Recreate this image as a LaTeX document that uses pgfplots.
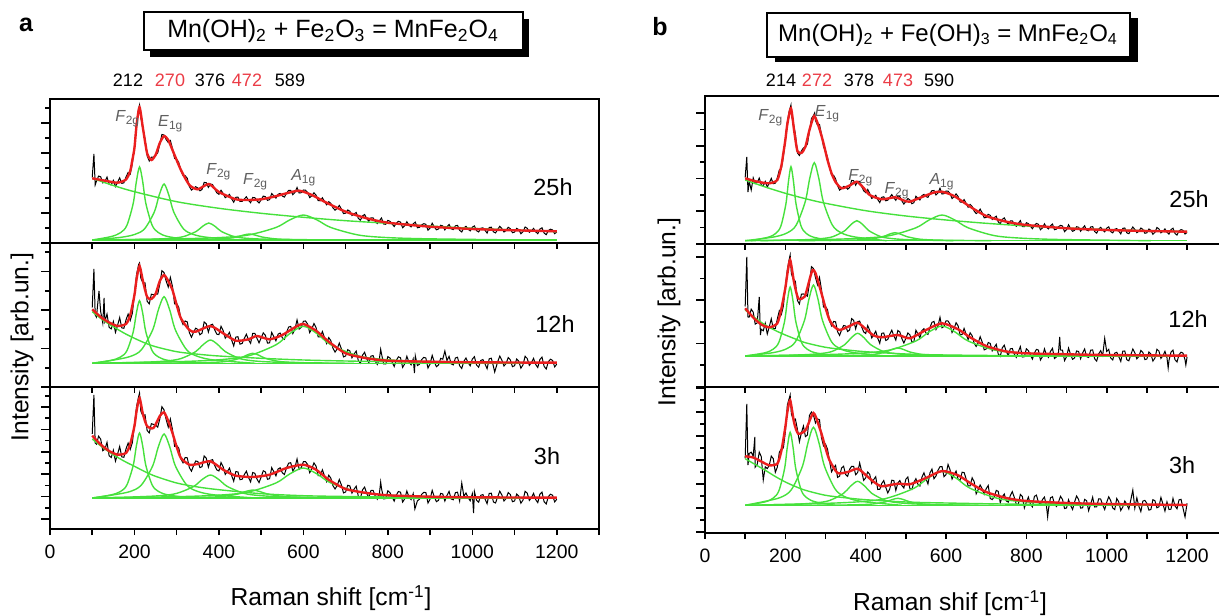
\documentclass[border=0pt]{standalone}
\usepackage{fontspec}
\setmainfont{Liberation Sans}
\usepackage{pgfplots}
\pgfplotsset{compat=1.18}
\definecolor{fitred}{RGB}{235,30,30}
\definecolor{peakgreen}{RGB}{70,225,60}
\definecolor{numred}{RGB}{235,60,70}
\definecolor{lblgray}{RGB}{95,95,95}
\pgfplotsset{
 panel/.style={scale only axis, xmin=0, xmax=1300, ymin=0,
   axis line style={line width=1pt}, tick style={black, line width=0.8pt},
   tick align=outside, xtick pos=bottom, ytick pos=left,
   xtick={0,100,...,1300}, xticklabels={}, yticklabels={},
   major tick length=4.5pt, minor tick length=2.5pt,
   xtick style={/pgfplots/major tick length=3pt},
   /pgf/number format/assume math mode=true},
 bottompanel/.style={xticklabels={0,,200,,400,,600,,800,,1000,,1200,},
   xticklabel style={font=\fontsize{9.7}{11}\selectfont}},
 noisy/.style={black, line width=0.5pt},
 fit/.style={fitred, line width=1.2pt, smooth, tension=0.4},
 comp/.style={peakgreen, line width=0.7pt, smooth, tension=0.5},
}
\tikzset{plab/.style={text=lblgray, font=\fontsize{8}{9}\selectfont, inner sep=0pt},
 hlab/.style={font=\fontsize{11.7}{13}\selectfont, inner sep=0pt},
 nlab/.style={font=\fontsize{9}{10}\selectfont, inner sep=0pt}}
\begin{document}
\begin{tikzpicture}
\useasboundingbox (0,0) rectangle (609.5pt,307.5pt);
% ---------------- LEFT TOP 25h
\begin{axis}[panel, at={(25pt,186pt)}, anchor=south west, width=274.5pt, height=72pt, ymax=144,
 ytick={0,30,60,90,120}, minor ytick={15,45,75,105,135}]
\addplot[noisy] coordinates {(100,65.7)(104,89)(107,58)(110,61.7)(115,66.9)(120,66.2)(125,60.1)(130,61.6)(135,65.9)(140,58.7)(145,58.1)(150,62.6)(155,56.5)(160,60.7)(165,65.1)(170,59.6)(175,60.2)(180,66)(185,70.5)(190,68.8)(195,79.5)(200,95.7)(205,120.5)(210,135)(212,138)(215,125.5)(220,114)(225,104)(230,87.2)(235,82)(240,85.8)(245,85.7)(250,88)(255,90)(260,98.7)(265,108.5)(270,108)(275,103.5)(280,100.5)(285,102.5)(290,94.5)(295,84.5)(300,83.8)(305,80.4)(310,72.5)(315,67.4)(320,67.3)(325,64.7)(330,56.5)(335,52.9)(340,54.7)(345,56.3)(350,55)(355,52.2)(360,53.5)(365,60.6)(370,60.3)(375,55.6)(380,59)(385,58.4)(390,54)(395,50.2)(400,48.7)(405,52.7)(410,49.5)(415,45.3)(420,46.8)(425,48.6)(430,44.2)(435,40.8)(440,45.7)(445,45.9)(450,41.5)(455,41.6)(460,44)(465,46.2)(470,42.7)(475,40.3)(480,45.5)(485,45.3)(490,42.1)(495,40)(500,43.2)(505,46.9)(510,46.3)(515,42.6)(520,43.4)(525,49.5)(530,47.1)(535,44.9)(540,48.7)(545,49.6)(550,47)(555,45.9)(560,49.7)(565,52.6)(570,52.6)(575,48.3)(580,50.5)(585,55.5)(590,50)(595,50.3)(600,53)(605,52.8)(610,50.5)(615,45.4)(620,47.2)(625,50.2)(630,47.8)(635,42.4)(640,42.2)(645,45.2)(650,41.6)(655,38.2)(660,41.3)(665,39.6)(670,35.2)(675,32.8)(680,34.5)(685,37.6)(690,34)(695,29.4)(700,29.8)(705,33)(710,31.8)(715,27.5)(720,29.1)(725,30.5)(730,24.7)(735,22.8)(740,27.1)(745,28.5)(750,24.4)(755,21.8)(760,25.2)(765,25.2)(770,21.7)(775,19.5)(780,22.3)(785,25)(790,19)(795,18.7)(800,22.6)(805,21.7)(810,19.1)(815,16.5)(820,19.8)(825,21.7)(830,20.9)(835,15.3)(840,17.2)(845,21.3)(850,17.8)(855,16.1)(860,19.2)(865,20.9)(870,15.2)(875,15.7)(880,18.1)(885,19.3)(890,18.7)(895,12.9)(900,15)(905,19.8)(910,16.1)(915,13.2)(920,14)(925,17.7)(930,17.1)(935,13.1)(940,16.2)(945,18.5)(950,14.2)(955,13.4)(960,17.2)(965,17.6)(970,12.7)(975,11)(980,15)(985,16.7)(990,13.9)(995,12.1)(1000,15.8)(1005,17.1)(1010,12.4)(1015,11)(1020,14.7)(1025,15.2)(1030,12.8)(1035,9.9)(1040,15.5)(1045,15.8)(1050,11.1)(1055,10.1)(1060,13.5)(1065,16.7)(1070,14.4)(1075,11)(1080,12.5)(1085,15.7)(1090,14.3)(1095,10.3)(1100,10.9)(1105,14.6)(1110,13.4)(1115,9.3)(1120,11.2)(1125,16)(1130,14.7)(1135,10.7)(1140,12.3)(1145,14.6)(1150,11.2)(1155,9.3)(1160,13.9)(1165,15.2)(1170,10)(1175,8.3)(1180,12.4)(1185,13.8)(1190,13.1)(1195,9.3)(1200,10.9)};
\addplot[comp] coordinates {(100,3)(1200,3)};
\addplot[comp] coordinates {(100,64.7)(150,57.5)(200,51.3)(300,41.3)(400,34.7)(500,29.7)(600,25.7)(700,22.3)(800,19.7)(900,17)(1000,14.7)(1100,13)(1200,11.3)};
\addplot[comp] coordinates {(100,3)(144.5,6.4)(167,10.3)(182,17.6)(197,39.5)(204.5,61.4)(212,76)(219.5,61.4)(227,39.5)(242,17.6)(257,10.3)(279.5,6.4)(332,3)};
\addplot[comp] coordinates {(100,3)(166.5,5.6)(201,8.6)(224,14.2)(247,31)(258.5,47.8)(270,59)(281.5,47.8)(293,31)(316,14.2)(339,8.6)(373.5,5.6)(454,3)};
\addplot[comp] coordinates {(136,3)(241,3.8)(286,4.7)(316,6.4)(346,11.5)(361,16.6)(376,20)(391,16.6)(406,11.5)(436,6.4)(466,4.7)(511,3.8)(616,3)};
\addplot[comp] coordinates {(232,3)(337,3.3)(382,3.6)(412,4.2)(442,6)(457,7.8)(472,9)(487,7.8)(502,6)(532,4.2)(562,3.6)(607,3.3)(712,3)};
\addplot[comp] coordinates {(100,3)(307.5,4.2)(405,5.5)(470,8)(535,15.5)(567.5,23)(600,28)(632.5,23)(665,15.5)(730,8)(795,5.5)(892.5,4.2)(1120,3)};
\addplot[fit] coordinates {(100,64.7)(130,62.3)(160,60.3)(180,63.5)(190,72)(195,83)(200,95)(205,118)(212,135.7)(220,115)(230,89.7)(240,83)(250,88)(260,100)(270,107)(280,103)(290,93)(310,73)(330,58)(350,53.7)(376,59)(400,51)(440,43.7)(470,43)(500,43.7)(530,46.3)(560,49.7)(590,52.3)(620,48)(650,41.3)(700,31.3)(750,24.7)(800,20.3)(900,16.3)(1000,14)(1100,12.7)(1200,11.7)};
\node[plab] at (axis cs:184,124) {\textit{F}\textsubscript{2g}};
\node[plab] at (axis cs:286,119) {\textit{E}\textsubscript{1g}};
\node[plab] at (axis cs:400,71) {\textit{F}\textsubscript{2g}};
\node[plab] at (axis cs:487,61) {\textit{F}\textsubscript{2g}};
\node[plab] at (axis cs:601,65) {\textit{A}\textsubscript{1g}};
\end{axis}
% ---------------- LEFT MIDDLE 12h
\begin{axis}[panel, at={(25pt,114pt)}, anchor=south west, width=274.5pt, height=72pt, ymax=144,
 ytick={0,38.5,77,115.5}, minor ytick={19.25,57.75,96.25,134.75}]
\addplot[noisy] coordinates {(100,79.5)(104,118)(107,72)(110,69.9)(116,96)(120,75.4)(125,64)(128,89)(130,65.8)(135,73)(140,59.7)(145,58.1)(150,65.5)(155,54.6)(160,61.6)(165,69.4)(170,59.1)(175,58.7)(180,67.2)(185,72.9)(190,66.6)(195,73.7)(200,93.2)(205,112.5)(210,122.6)(212,124)(215,108.9)(220,104.2)(225,104.2)(230,85.8)(235,83.1)(240,92.8)(245,92.3)(250,93)(255,92.8)(260,103)(265,116.3)(270,114.4)(275,106)(280,100)(285,109.6)(290,100.6)(295,83.2)(300,83.4)(305,79.5)(310,67.8)(315,62.5)(320,66)(325,65.1)(330,54.3)(335,49.8)(340,54.8)(345,58.8)(350,57.6)(355,52.2)(360,53.9)(365,65)(370,63.2)(375,54.9)(380,61.9)(385,62.8)(390,57.2)(395,52.8)(400,52.4)(405,60.7)(410,56.4)(415,48.8)(420,51.5)(425,54.6)(430,47.1)(435,41.1)(440,49.9)(445,50.3)(450,42.8)(455,43.6)(460,48.6)(465,52.8)(470,47.2)(475,43.7)(480,53.6)(485,53.7)(490,48.7)(495,44.2)(500,49.1)(505,54.1)(510,51.7)(515,43.9)(520,44.1)(525,54.6)(530,50.4)(535,46.2)(540,52.8)(545,54)(550,49.3)(555,47.6)(560,54.5)(565,59.9)(570,60.6)(575,53.4)(580,57.9)(585,67.1)(590,57.9)(595,59.7)(600,65.7)(605,66)(610,62.9)(615,54.4)(620,58.1)(625,63.5)(630,59.5)(635,50.2)(640,50.2)(645,55.5)(650,49.3)(655,43.5)(660,49.4)(665,46.4)(670,38.8)(675,34.9)(680,38.1)(685,43.9)(690,38.1)(695,30.1)(700,31)(705,37.3)(710,36.1)(715,29.2)(720,32.9)(725,35.9)(730,26.4)(735,23.7)(740,31.8)(745,34.7)(750,28.2)(755,24.2)(760,30.9)(765,31.4)(770,25.9)(775,22.5)(780,28.1)(783,37.7)(785,33.2)(790,23.1)(795,23)(800,30.4)(805,29)(810,24.8)(815,20.5)(820,26.6)(825,30.2)(830,29.2)(835,19.6)(840,23.2)(845,30.7)(850,24.9)(855,22.2)(860,28)(863,14)(865,31.2)(870,21.5)(875,22.7)(880,27.3)(885,29.6)(890,29)(895,19)(900,23)(905,31.6)(910,25.2)(915,20.3)(920,22)(925,28.6)(930,27.8)(935,36)(940,26.4)(945,30.6)(950,23.1)(955,22.1)(960,29)(965,29.8)(970,21.2)(975,18.5)(980,25.7)(985,29)(990,24.2)(995,21.2)(1000,27.9)(1005,30.3)(1010,22)(1015,19.8)(1020,26.5)(1025,27.4)(1030,23.2)(1035,18.3)(1040,28.2)(1045,28.8)(1050,20.5)(1053,15)(1060,25.1)(1065,30.9)(1070,26.8)(1075,21)(1080,23.6)(1085,29.4)(1090,27.2)(1095,20.3)(1100,21.3)(1105,28)(1110,25.8)(1115,18.8)(1120,22.1)(1125,30.7)(1130,28.5)(1135,21.6)(1140,24.4)(1145,28.6)(1150,22.6)(1155,19.5)(1160,27.5)(1165,29.9)(1170,20.7)(1175,18)(1180,25.2)(1185,27.8)(1190,26.6)(1195,20.1)(1200,22.9)};
\addplot[comp] coordinates {(100,23.7)(1200,23.7)};
\addplot[comp] coordinates {(100,75.3)(125,67)(150,60.3)(175,54)(200,48.7)(225,44)(250,40.3)(300,35.3)(350,32.8)(400,31)(500,28.7)(600,27)(700,26)(800,25.3)(1000,24.5)(1200,23.7)};
\addplot[comp] coordinates {(100,23.7)(144.5,26.6)(167,30)(182,36.2)(197,55)(204.5,73.8)(212,86.3)(219.5,73.8)(227,55)(242,36.2)(257,30)(279.5,26.6)(332,23.7)};
\addplot[comp] coordinates {(100,23.7)(148.5,26.8)(189,30.4)(216,37)(243,57)(256.5,77)(270,90.3)(283.5,77)(297,57)(324,37)(351,30.4)(391.5,26.8)(486,23.7)};
\addplot[comp] coordinates {(100,23.7)(222.5,24.8)(275,26)(310,28.4)(345,35.4)(362.5,42.3)(380,47)(397.5,42.3)(415,35.4)(450,28.4)(485,26)(537.5,24.8)(660,23.7)};
\addplot[comp] coordinates {(240,23.7)(345,24.2)(390,24.7)(420,25.7)(450,28.7)(465,31.7)(480,33.7)(495,31.7)(510,28.7)(540,25.7)(570,24.7)(615,24.2)(720,23.7)};
\addplot[comp] coordinates {(100,23.7)(307.5,25.4)(405,27.4)(470,31.1)(535,42.2)(567.5,53.3)(600,60.7)(632.5,53.3)(665,42.2)(730,31.1)(795,27.4)(892.5,25.4)(1120,23.7)};
\addplot[fit] coordinates {(100,77.7)(120,70)(140,64.5)(160,61)(180,63)(190,72)(200,92)(205,108)(212,121)(220,106)(230,90)(240,88)(250,93)(260,106)(270,112)(280,106)(290,97)(300,82)(310,68.7)(330,57)(345,55.3)(380,61)(410,53.7)(440,46.3)(470,47.7)(490,51)(520,47.7)(550,52)(580,59.7)(600,63)(630,56.3)(660,45.3)(700,33.7)(750,28.7)(800,26.3)(900,25.3)(1000,24.7)(1200,24.3)};
\end{axis}
% ---------------- LEFT BOTTOM 3h
\begin{axis}[panel, bottompanel, at={(25pt,43pt)}, anchor=south west, width=274.5pt, height=71pt, ymax=142,
 ytick={10,32.4,54.8,77.2,99.6,122}, minor ytick={21.2,43.6,66,88.4,110.8,133.2}]
\addplot[noisy] coordinates {(100,95.1)(104,134)(107,86)(110,84.9)(115,92.8)(120,89.9)(125,78.3)(130,79.8)(135,86.7)(140,73.2)(145,71.5)(150,78.7)(155,67.8)(160,74.9)(165,82.5)(170,72.1)(175,71.7)(180,80.2)(185,85.9)(190,79.6)(195,86.4)(200,104.2)(205,122.5)(210,132.6)(212,136)(215,117.9)(220,113.2)(225,114.2)(230,98.5)(235,96.1)(240,105.3)(245,104.6)(250,104)(255,101.8)(260,110)(265,122.3)(270,119.1)(275,109.5)(280,102)(285,110.1)(290,99.6)(295,82.7)(300,83.5)(305,80.7)(310,70)(315,66.2)(320,71.5)(325,71.2)(330,61.3)(335,57.8)(340,63.5)(345,68)(350,67.5)(355,61.4)(360,62.3)(365,73.1)(370,70.8)(375,61.9)(380,68.7)(385,69.4)(390,63.5)(395,59.1)(400,58)(405,66.5)(410,62.3)(415,54.6)(420,57.5)(425,60.9)(430,53.5)(435,47.8)(440,57.3)(445,57.2)(450,49.3)(455,49.8)(460,54.4)(465,57.8)(470,51.6)(475,47.1)(480,56.5)(485,55.7)(490,50)(495,46.4)(500,52)(505,58.2)(510,57.1)(515,49.7)(520,50.3)(525,61.3)(530,57.3)(535,53.1)(540,60)(545,61.2)(550,56.3)(555,54.5)(560,61)(565,65.8)(570,66.3)(575,58)(580,61.5)(585,70.1)(590,59.7)(595,61.4)(600,67.3)(605,67.4)(610,64.5)(615,56.3)(620,60.3)(625,66.1)(630,62.8)(635,53.4)(640,53.5)(645,59.2)(650,53.1)(655,47.4)(660,53.8)(665,50.8)(670,43.3)(675,40)(680,43.4)(685,49.5)(690,44.1)(695,36.1)(700,37)(705,43.7)(710,43.1)(715,35.9)(720,39.8)(725,42.8)(730,33)(735,30.8)(740,39.2)(745,41.9)(750,35.5)(755,31.5)(760,38.5)(765,38.7)(770,33)(775,29.8)(780,35.5)(783,47)(785,40.6)(790,30.1)(795,30.4)(800,38.2)(805,36.4)(810,32.1)(815,27.9)(820,33.9)(825,37.5)(830,36.8)(835,26.9)(840,30.2)(845,38)(850,32)(855,29.4)(860,35.4)(864,20)(870,28.2)(875,29.8)(880,34.6)(885,36.7)(890,36.4)(895,26)(900,29.8)(905,38.6)(910,32.2)(915,27.3)(920,28.7)(925,35.6)(930,35.1)(935,27.9)(940,33.6)(945,37.6)(950,30)(955,29.2)(960,36.4)(965,36.8)(970,27.9)(975,46)(980,32.8)(985,36)(990,31.3)(995,28.2)(1000,35.2)(1003,16)(1005,37.3)(1010,28.7)(1015,26.8)(1020,33.7)(1025,34.4)(1030,30.1)(1035,25.3)(1040,35.6)(1045,35.8)(1050,27.1)(1055,26)(1060,32.1)(1065,37.8)(1070,34)(1075,28)(1080,30.5)(1085,36.4)(1090,34.5)(1095,27.3)(1100,28)(1105,34.9)(1110,32.9)(1115,25.8)(1120,28.9)(1125,37.7)(1130,35.9)(1135,28.6)(1140,31.4)(1145,35.6)(1150,29.4)(1155,26.4)(1160,34.8)(1165,36.9)(1170,27.3)(1175,25)(1180,32.3)(1185,34.8)(1190,33.8)(1195,27.1)(1200,29.8)};
\addplot[comp] coordinates {(100,31)(1200,31)};
\addplot[comp] coordinates {(100,90)(125,81.5)(150,74.3)(175,68)(200,62.7)(225,57.3)(250,52.7)(300,46)(350,42)(400,39.3)(500,35.3)(600,33.3)(700,32.5)(800,32)(1000,31.5)(1200,31)};
\addplot[comp] coordinates {(100,31)(144.5,34.1)(167,37.5)(182,44)(197,63.5)(204.5,83)(212,96)(219.5,83)(227,63.5)(242,44)(257,37.5)(279.5,34.1)(332,31)};
\addplot[comp] coordinates {(100,31)(148.5,34)(189,37.4)(216,43.8)(243,63)(256.5,82.2)(270,95)(283.5,82.2)(297,63)(324,43.8)(351,37.4)(391.5,34)(486,31)};
\addplot[comp] coordinates {(100,31)(200,32.1)(260,33.3)(300,35.6)(340,42.5)(360,49.4)(380,54)(400,49.4)(420,42.5)(460,35.6)(500,33.3)(560,32.1)(700,31)};
\addplot[comp] coordinates {(200,31)(322.5,31.4)(375,31.8)(410,32.6)(445,35)(462.5,37.4)(480,39)(497.5,37.4)(515,35)(550,32.6)(585,31.8)(637.5,31.4)(760,31)};
\addplot[comp] coordinates {(100,31)(307.5,32.4)(405,34)(470,37)(535,46)(567.5,55)(600,61)(632.5,55)(665,46)(730,37)(795,34)(892.5,32.4)(1120,31)};
\addplot[fit] coordinates {(100,93.3)(120,84.5)(140,78)(160,74.3)(180,76)(190,85)(200,103)(205,118)(212,131)(220,115)(230,102.7)(245,101)(260,113)(270,116.7)(280,108)(290,96)(300,82)(310,71)(330,64.3)(350,65)(380,67.7)(410,59.3)(440,53.3)(480,52)(520,54.3)(560,61)(600,64.3)(630,59.3)(660,49.3)(700,40)(750,36)(800,33.7)(900,32.3)(1000,31.7)(1200,31.3)};
\end{axis}
% ---------------- RIGHT TOP 25h
\begin{axis}[panel, at={(352.5pt,185.5pt)}, anchor=south west, width=261.1pt, height=74pt, ymax=148,
 ytick={0,32.7,65.4,98.1,130.8}, minor ytick={16.4,49,81.8,114.5}]
\addplot[noisy] coordinates {(100,66.6)(104,87)(107,52)(110,62.7)(115,54)(120,66.1)(125,60.4)(130,61.7)(135,65.9)(140,59.1)(145,58.3)(150,62.5)(155,56.9)(160,61)(165,65.6)(170,60.3)(175,60.8)(180,66.1)(185,74)(190,75.3)(195,87.2)(200,104.5)(205,122.5)(210,133.5)(214,139)(215,129.3)(220,120.2)(225,110)(230,91.2)(235,88.5)(240,93)(245,96)(250,97.3)(255,100)(260,112.7)(265,125.5)(270,128.5)(273,131)(275,123.5)(280,119)(285,119.5)(290,109.5)(295,97.2)(300,93.2)(305,86.4)(310,76.9)(315,69.1)(320,68.7)(325,65.2)(330,58.4)(335,53.9)(340,55.4)(345,57.6)(350,57.3)(355,54.8)(360,56.5)(365,63.6)(370,63.3)(375,58.8)(380,62.5)(385,62.6)(390,57.5)(395,53.2)(400,51.4)(405,54.5)(410,50.5)(415,45.6)(420,46.8)(425,48.7)(430,44.5)(435,41.4)(440,46.7)(445,47.2)(450,43.2)(455,43.8)(460,46.8)(465,49.4)(470,46.2)(475,43.7)(480,48.3)(485,47.3)(490,43.2)(495,39.9)(500,42.6)(505,45.5)(510,44.1)(515,40.3)(520,41.3)(525,47.7)(530,45.8)(535,44)(540,48.3)(545,49.6)(550,47.5)(555,46.6)(560,50.5)(565,53.4)(570,53.5)(575,49)(580,51)(585,55.8)(590,50)(595,50.3)(600,53)(605,52.8)(610,50.5)(615,45.4)(620,47.2)(625,50.1)(630,47.5)(635,42)(640,41.7)(645,44.4)(650,40.5)(655,36.8)(660,39.6)(665,37.6)(670,33)(675,30.4)(680,31.9)(685,34.9)(690,31.1)(695,26.2)(700,26.5)(705,29.7)(710,28.7)(715,24.5)(720,26.3)(725,27.8)(730,22.1)(735,20.3)(740,24.6)(745,26.1)(750,22.1)(755,19.6)(760,23)(765,23.2)(770,19.8)(775,17.7)(780,20.6)(785,23.4)(790,17.5)(795,17.3)(800,21.3)(805,20.4)(810,17.8)(815,15.3)(820,18.6)(825,20.5)(830,19.7)(835,14.2)(840,16.1)(845,20.2)(850,16.7)(855,15.1)(860,18.2)(865,20)(870,14.3)(875,14.9)(880,17.3)(885,18.6)(890,18)(895,12.3)(900,14.4)(905,19.2)(910,15.5)(915,12.7)(920,13.6)(925,17.3)(930,16.7)(935,12.7)(940,15.8)(945,18.2)(950,13.9)(955,13.2)(960,17)(965,17.4)(970,12.5)(975,10.8)(980,14.8)(985,16.7)(990,13.9)(995,12.1)(1000,15.8)(1005,17.2)(1010,12.4)(1015,11.1)(1020,14.8)(1025,15.4)(1030,12.9)(1035,10.1)(1040,15.6)(1045,16)(1050,11.2)(1055,10.3)(1060,13.7)(1065,17)(1070,14.6)(1075,11.3)(1080,12.7)(1085,16)(1090,14.6)(1095,10.7)(1100,11.2)(1105,15)(1110,13.7)(1115,9.7)(1120,11.6)(1125,16.5)(1130,15.1)(1135,11.2)(1140,12.7)(1145,15.1)(1150,11.7)(1155,9.9)(1160,14.4)(1165,15.8)(1170,10.5)(1175,8.9)(1180,12.9)(1185,14.4)(1190,13.7)(1195,10)(1200,11.5)};
\addplot[comp] coordinates {(100,3.3)(1200,3.3)};
\addplot[comp] coordinates {(100,64)(150,57)(200,50.7)(250,45.3)(300,40.7)(400,33.3)(500,28)(600,24)(700,20.7)(800,18)(900,16)(1000,14.3)(1100,13.3)(1200,12.3)};
\addplot[comp] coordinates {(114,3.3)(157.5,6.8)(176.5,10.7)(189,18.1)(201.5,40.3)(207.75,62.5)(214,77.3)(220.25,62.5)(226.5,40.3)(239,18.1)(251.5,10.7)(270.25,6.8)(314,3.3)};
\addplot[comp] coordinates {(100,3.3)(170.75,7)(204.5,11.1)(227,18.9)(249.5,42.3)(260.75,65.7)(272,81.3)(283.25,65.7)(294.5,42.3)(317,18.9)(339.5,11.1)(373.25,7)(452,3.3)};
\addplot[comp] coordinates {(138,3.3)(243,4.2)(288,5.3)(318,7.3)(348,13.3)(363,19.3)(378,23.3)(393,19.3)(408,13.3)(438,7.3)(468,5.3)(513,4.2)(618,3.3)};
\addplot[comp] coordinates {(233,3.3)(338,3.7)(383,4.1)(413,4.9)(443,7.3)(458,9.7)(473,11.3)(488,9.7)(503,7.3)(533,4.9)(563,4.1)(608,3.7)(713,3.3)};
\addplot[comp] coordinates {(100,3.3)(297.5,4.5)(395,5.9)(460,8.4)(525,16.2)(557.5,23.9)(590,29)(622.5,23.9)(655,16.2)(720,8.4)(785,5.9)(882.5,4.5)(1110,3.3)};
\addplot[fit] coordinates {(100,65.7)(130,62.3)(160,60.7)(180,64)(190,78)(195,90.7)(200,104)(205,120)(214,135.7)(222,113)(230,93)(240,91)(250,97.3)(260,114)(272,128)(285,115)(295,100.7)(305,84)(315,70.7)(325,62)(340,55.7)(360,58.5)(378,62.3)(395,56)(410,49)(440,44.7)(473,46.7)(495,43.5)(510,42.3)(540,47)(570,51.5)(590,52.3)(620,48)(660,37.3)(700,28)(750,22.3)(800,19)(900,15.7)(1000,14)(1100,13)(1200,12.3)};
\node[plab] at (axis cs:164,126) {\textit{F}\textsubscript{2g}};
\node[plab] at (axis cs:305,130) {\textit{E}\textsubscript{1g}};
\node[plab] at (axis cs:388,66) {\textit{F}\textsubscript{2g}};
\node[plab] at (axis cs:478,53) {\textit{F}\textsubscript{2g}};
\node[plab] at (axis cs:590,62) {\textit{A}\textsubscript{1g}};
\end{axis}
% ---------------- RIGHT MIDDLE 12h
\begin{axis}[panel, at={(352.5pt,114pt)}, anchor=south west, width=261.1pt, height=71.5pt, ymax=143,
 ytick={0,43.3,86.7,130}, minor ytick={21.7,65,108.3}]
\addplot[noisy] coordinates {(100,80.5)(104,130)(107,70)(110,69.9)(115,77.8)(120,74.9)(125,62.9)(130,64.1)(135,90)(138,52)(140,57.7)(145,56.2)(150,63.7)(155,53)(160,60.3)(165,68.2)(170,58.1)(175,58.5)(180,67.9)(185,76.3)(190,72.6)(195,80.7)(200,100.2)(205,117.5)(210,128.6)(212,132)(215,113.4)(220,107.2)(225,105.7)(230,86.6)(235,83)(240,92.8)(245,93.1)(250,92)(255,90.8)(260,103.6)(265,120.3)(270,118.5)(275,109.5)(280,102.3)(285,109.6)(290,97.3)(295,80)(300,80.5)(305,77.2)(310,66)(315,61.2)(320,65.5)(325,65.2)(330,55.3)(335,51.6)(340,57)(345,61.5)(350,61)(355,55.5)(360,57)(365,68.4)(370,66.7)(375,58.1)(380,65.3)(385,65.9)(390,60)(395,55.1)(400,53.5)(405,61.4)(410,56.7)(415,49.1)(420,52)(425,55.8)(430,48.8)(435,43.7)(440,53.7)(445,54)(450,46.5)(455,47.6)(460,52.8)(465,56.8)(470,51.1)(475,46.9)(480,56.5)(485,55)(490,48.5)(495,44)(500,48.6)(505,54)(510,52.2)(515,44.9)(520,45.5)(525,56.8)(530,53)(535,49.2)(540,56.5)(545,58.3)(550,54)(555,52.6)(560,59.5)(565,64.7)(570,65.6)(575,57.4)(580,61.1)(585,69.7)(590,59.2)(595,60.6)(600,66.2)(605,66)(610,62.8)(615,54.5)(620,58.3)(625,64.3)(630,61.2)(635,52.1)(640,52.5)(645,58.5)(650,52.8)(655,47.5)(660,54.2)(665,51.3)(670,43.8)(675,40.5)(680,44)(685,50.3)(690,45)(695,37.1)(700,38)(705,44.5)(710,43.6)(715,36.1)(720,39.7)(725,42.7)(730,32.9)(735,30.7)(740,39.1)(745,41.8)(750,35.4)(755,31.3)(760,38.2)(765,38.5)(770,32.8)(775,29.6)(780,35.3)(785,40.4)(790,30)(795,30.3)(800,38.2)(805,36.4)(810,32.1)(815,27.9)(820,34)(825,37.6)(830,36.9)(835,27)(840,30.3)(845,38.1)(850,32.2)(855,29.6)(860,35.6)(865,38.6)(870,28.5)(875,30.1)(880,34.9)(883,50)(885,37)(890,36.8)(895,26.4)(900,30.2)(905,38.9)(910,32.6)(915,27.7)(920,29.1)(925,36)(930,35.5)(935,28.2)(940,33.9)(945,38)(950,30.4)(955,29.5)(960,36.8)(965,37.1)(970,28.2)(975,25.9)(980,33.1)(985,36.3)(990,31.6)(995,48.7)(1000,35.5)(1005,37.6)(1010,29)(1015,27.1)(1020,33.9)(1025,34.7)(1030,30.4)(1035,25.6)(1040,35.8)(1045,36)(1050,27.3)(1055,26.2)(1060,32.2)(1065,38)(1070,34.2)(1075,28.2)(1080,30.6)(1085,36.5)(1090,34.6)(1095,27.4)(1100,28)(1105,35)(1110,33)(1115,25.9)(1120,28.9)(1125,37.7)(1130,35.9)(1135,28.6)(1140,31.4)(1145,35.6)(1150,29.4)(1153,19)(1155,26.5)(1160,34.8)(1165,36.9)(1170,27.3)(1175,25)(1180,32.3)(1185,34.8)(1190,33.8)(1195,27.1)(1197,22)(1200,29.8)};
\addplot[comp] coordinates {(100,31)(1200,31)};
\addplot[comp] coordinates {(100,77)(125,69)(150,62)(175,56.5)(200,52)(225,48)(250,44.3)(300,39.7)(350,37.2)(400,35.3)(500,33)(600,32)(800,31.3)(1200,31)};
\addplot[comp] coordinates {(100,31)(149,34.2)(170,37.9)(184,44.8)(198,65.5)(205,86.2)(212,100)(219,86.2)(226,65.5)(240,44.8)(254,37.9)(275,34.2)(324,31)};
\addplot[comp] coordinates {(100,31)(168.75,34.3)(202.5,38.1)(225,45.2)(247.5,66.5)(258.75,87.8)(270,102)(281.25,87.8)(292.5,66.5)(315,45.2)(337.5,38.1)(371.25,34.3)(450,31)};
\addplot[comp] coordinates {(124,31)(236,32.1)(284,33.3)(316,35.5)(348,42.4)(364,49.2)(380,53.7)(396,49.2)(412,42.4)(444,35.5)(476,33.3)(524,32.1)(636,31)};
\addplot[comp] coordinates {(240,31)(345,31.4)(390,31.8)(420,32.6)(450,35)(465,37.4)(480,39)(495,37.4)(510,35)(540,32.6)(570,31.8)(615,31.4)(720,31)};
\addplot[comp] coordinates {(100,31)(297.5,32.4)(395,34)(460,37)(525,46)(557.5,55)(590,61)(622.5,55)(655,46)(720,37)(785,34)(882.5,32.4)(1110,31)};
\addplot[fit] coordinates {(100,78.7)(120,69.5)(140,62.5)(160,59.7)(180,63.7)(190,78)(200,99)(205,113)(212,127)(222,104)(232,88.7)(248,90.3)(262,110)(268,117)(275,114)(290,93.7)(300,79)(310,67)(320,61)(335,57)(360,61)(380,64.3)(400,58)(420,51.5)(440,49.7)(480,52)(510,48.7)(550,57)(590,63.7)(630,57.7)(660,49.7)(700,41)(750,35.5)(800,33.7)(900,32.7)(1000,32)(1200,31.3)};
\end{axis}
% ---------------- RIGHT BOTTOM 3h
\begin{axis}[panel, bottompanel, at={(352.5pt,41pt)}, anchor=south west, width=261.1pt, height=73pt, ymax=146,
 ytick={1,25,49,73,97,121,145}, minor ytick={13,37,61,85,109,133}]
\addplot[noisy] coordinates {(100,74.6)(104,129)(107,68)(110,79.5)(115,80.8)(120,76.9)(124,96)(125,65.9)(130,68.7)(135,80.9)(140,76.4)(145,53)(150,66.2)(155,64.4)(160,67.7)(165,76.9)(170,74.3)(175,60.7)(180,65.8)(185,80.7)(190,84.1)(195,85)(200,101.1)(205,128)(210,135.2)(212,138)(215,119)(220,113.3)(225,114)(230,103.7)(235,91.3)(240,100.2)(245,107)(250,96.4)(255,98)(260,117.6)(265,121)(270,117.9)(275,110)(280,114.1)(285,113.3)(290,95.1)(295,87)(300,88.9)(305,83.7)(310,72.1)(315,61.2)(320,65.1)(325,67.6)(330,55.6)(335,56.8)(340,65)(345,66.8)(350,58.5)(355,56.6)(360,63.7)(365,66.7)(370,66.7)(375,58.3)(380,60.4)(385,70.1)(390,61.5)(395,52.6)(400,55.2)(405,61)(410,58.7)(415,49.6)(420,53.4)(425,56.3)(430,43.5)(435,43.6)(440,49.5)(445,52.4)(450,45.7)(455,40)(460,44.2)(465,52.8)(470,52.4)(475,42.5)(480,49.9)(485,52.5)(490,47.5)(495,45)(500,53.8)(505,56)(510,44.3)(515,43.5)(520,50.6)(525,54.3)(530,48.8)(535,47)(540,55.8)(545,60.2)(550,54.4)(555,49)(560,60.1)(565,63.9)(570,54.3)(575,57)(580,62.7)(585,66.3)(590,66.4)(595,56.3)(600,58.5)(605,68.6)(610,63.2)(615,53.9)(620,58.5)(625,61.9)(630,53.8)(635,52.8)(640,60.8)(645,60.4)(650,54.3)(655,47.1)(660,47.2)(665,55.2)(670,51.4)(675,39.1)(680,43.3)(685,48)(690,44.1)(695,38.8)(700,44.3)(705,47.5)(710,34.6)(715,33.4)(720,36.1)(725,42.6)(730,41.6)(735,30.3)(740,36.2)(745,39)(750,32)(755,30.9)(760,37.3)(765,41.4)(770,35.5)(775,28.7)(780,28.8)(785,38.5)(790,36.5)(795,25.1)(800,30.9)(805,35.9)(810,29)(815,26.1)(820,36.6)(825,37.9)(830,30.8)(835,28.1)(840,33.4)(845,35.9)(850,27.1)(853,16)(855,23.7)(860,35.2)(865,36.3)(870,28.9)(875,26.5)(880,31)(885,36.7)(890,33.5)(895,24.5)(900,25)(905,33.2)(910,27.7)(915,23.5)(920,30.9)(925,37)(930,33.6)(935,24.9)(940,25.2)(945,33.6)(950,32.3)(955,22.3)(960,28.8)(965,35.8)(970,26)(975,26.1)(980,34.2)(985,34)(990,28)(995,23.5)(1000,30.7)(1005,36.2)(1010,32.3)(1015,25)(1020,23.4)(1025,34.5)(1030,31.1)(1035,22.5)(1040,26)(1045,32)(1050,28.8)(1055,24)(1060,33.1)(1065,43)(1070,24.8)(1075,35.1)(1080,26.9)(1085,21.4)(1090,31.9)(1095,32.6)(1100,29.6)(1105,22.9)(1110,23.5)(1115,33.3)(1120,32.3)(1125,25.2)(1130,26.2)(1135,35.6)(1140,28.9)(1145,21.9)(1150,31.1)(1155,23.5)(1160,23.8)(1165,34.6)(1170,27.1)(1175,24.2)(1180,33.1)(1185,33.7)(1190,24.8)(1195,16)(1200,29.7)};
\addplot[comp] coordinates {(100,27.7)(1200,27.7)};
\addplot[comp] coordinates {(100,74.3)(125,68.5)(150,62.7)(175,56.5)(200,51)(225,46.5)(250,42.7)(300,37.7)(350,35.2)(400,33.3)(500,31)(600,30)(800,28.7)(1200,27.7)};
\addplot[comp] coordinates {(100,27.7)(149,31.1)(170,35)(184,42.3)(198,64.2)(205,86.1)(212,100.7)(219,86.1)(226,64.2)(240,42.3)(254,35)(275,31.1)(324,27.7)};
\addplot[comp] coordinates {(100,27.7)(146.25,31.4)(187.5,35.5)(215,43.3)(242.5,66.7)(256.25,90.1)(270,105.7)(283.75,90.1)(297.5,66.7)(325,43.3)(352.5,35.5)(393.75,31.4)(490,27.7)};
\addplot[comp] coordinates {(100,27.7)(222.5,28.8)(275,30.1)(310,32.5)(345,39.7)(362.5,46.9)(380,51.7)(397.5,46.9)(415,39.7)(450,32.5)(485,30.1)(537.5,28.8)(660,27.7)};
\addplot[comp] coordinates {(240,27.7)(345,28)(390,28.4)(420,29.1)(450,31.2)(465,33.3)(480,34.7)(495,33.3)(510,31.2)(540,29.1)(570,28.4)(615,28)(720,27.7)};
\addplot[comp] coordinates {(100,27.7)(275,29.3)(380,31.1)(450,34.5)(520,44.7)(555,54.9)(590,61.7)(625,54.9)(660,44.7)(730,34.5)(800,31.1)(905,29.3)(1150,27.7)};
\addplot[fit] coordinates {(100,76.7)(120,75.5)(140,71.5)(160,67.7)(180,69.3)(190,82)(200,106)(205,121)(212,132.7)(222,110)(232,99.3)(250,102.7)(264,116)(270,120)(276,116)(290,99.3)(300,85)(310,72.7)(330,60)(355,61)(380,64.3)(400,58)(420,51.2)(440,46.7)(480,49.3)(510,48.7)(550,55)(590,62)(630,57.7)(660,50)(700,41)(750,35)(800,32)(900,30)(1000,29)(1200,28)};
\end{axis}
% ---------------- texts
\node[font=\bfseries\fontsize{12.5}{14}\selectfont, inner sep=0pt] at (13pt,295pt) {a};
\node[font=\bfseries\fontsize{12.5}{14}\selectfont, inner sep=0pt] at (330pt,294pt) {b};
\fill[black] (75pt,279pt) rectangle (264.5pt,298pt);
\draw[line width=1pt, fill=white] (72pt,282.5pt) rectangle (261.5pt,301.5pt);
\node[font=\fontsize{12.5}{14}\selectfont, inner sep=0pt] at (166.5pt,292pt) {Mn(OH)\textsubscript{2} + Fe\textsubscript{2}O\textsubscript{3} = MnFe\textsubscript{2}O\textsubscript{4}};
\fill[black] (387.5pt,276.5pt) rectangle (569pt,298.5pt);
\draw[line width=1pt, fill=white] (383.5pt,279pt) rectangle (565pt,301pt);
\node[font=\fontsize{12}{14}\selectfont, inner sep=0pt] at (474pt,290pt) {Mn(OH)\textsubscript{2} + Fe(OH)\textsubscript{3} = MnFe\textsubscript{2}O\textsubscript{4}};
\node[nlab] at (64pt,267.5pt) {212};
\node[nlab, text=numred] at (85pt,267.5pt) {270};
\node[nlab] at (105pt,267.5pt) {376};
\node[nlab, text=numred] at (123.5pt,267.5pt) {472};
\node[nlab] at (145pt,267.5pt) {589};
\node[nlab] at (390.5pt,267.5pt) {214};
\node[nlab, text=numred] at (408.5pt,267.5pt) {272};
\node[nlab] at (429.5pt,267.5pt) {378};
\node[nlab, text=numred] at (449pt,267.5pt) {473};
\node[nlab] at (469.5pt,267.5pt) {590};
\node[font=\fontsize{12.3}{14}\selectfont, rotate=90, inner sep=0pt] at (11pt,134pt) {Intensity [arb.un.]};
\node[font=\fontsize{12.3}{14}\selectfont, rotate=90, inner sep=0pt] at (334.5pt,151.5pt) {Intensity [arb.un.]};
\node[font=\fontsize{12.3}{14}\selectfont, inner sep=0pt] at (165.5pt,8.5pt) {Raman shift [cm\textsuperscript{-1}]};
\node[font=\fontsize{12.3}{14}\selectfont, inner sep=0pt] at (475pt,6pt) {Raman shif [cm\textsuperscript{-1}]};
\node[hlab] at (276.5pt,214pt) {25h};
\node[hlab] at (277.5pt,145.5pt) {12h};
\node[hlab] at (273.5pt,79.5pt) {3h};
\node[hlab] at (594.5pt,208pt) {25h};
\node[hlab] at (594pt,148pt) {12h};
\node[hlab] at (591pt,75pt) {3h};
\end{tikzpicture}
\end{document}
